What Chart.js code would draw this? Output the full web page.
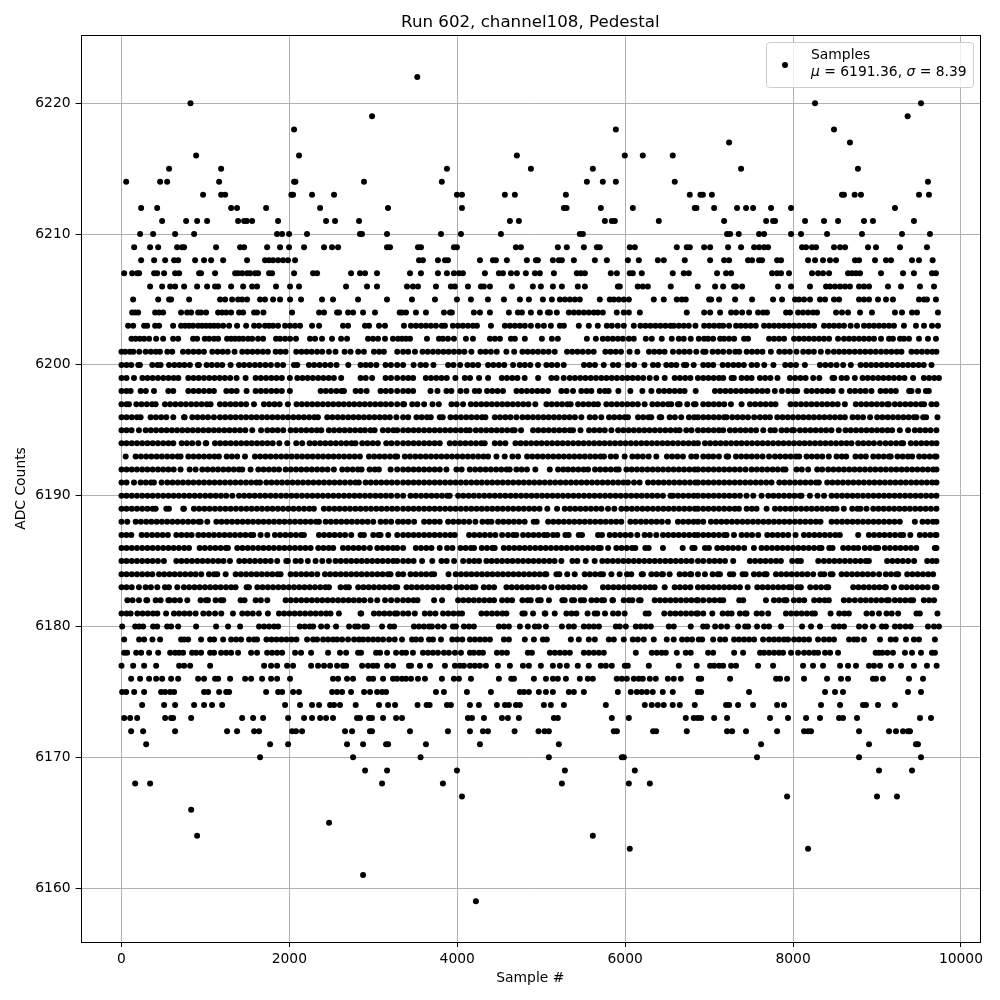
<!DOCTYPE html>
<html>
<head>
<meta charset="utf-8">
<style>body{margin:0;background:#fff}</style>
<script src="https://cdn.jsdelivr.net/npm/chart.js@4"></script>
</head>
<body>
<canvas id="myChart" width="1000" height="1000"></canvas>
<script>
// sample numbers, one list per ADC level
const s6222 = [3524];
const s6220 = [822, 8262, 9524];
const s6219 = [2985, 9365];
const s6218 = [2056, 5889, 8488];
const s6217 = [7238, 8678];
const s6216 = [889, 2115, 4710, 5996, 6210, 6567];
const s6215 = [567, 1187, 3877, 4877, 5615, 7381, 8773];
const s6214 = [56, 460, 544, 1163, 2056, 2072, 2889, 3816, 5544, 5734, 5889, 6591, 9607];
const s6213 = [972, 1187, 1235, 2024, 2044, 2270, 2532, 3996, 4056, 4567, 4686, 5294, 6770, 6897, 6926, 7033, 8583, 8607, 8734, 8809, 9500, 9619];
const s6212 = [234, 425, 1306, 1377, 1723, 2366, 3175, 4056, 5270, 5302, 5710, 6091, 6829, 6849, 7060, 7333, 7440, 7524, 7738, 7976, 9214];
const s6211 = [484, 770, 901, 1020, 1389, 1461, 1493, 1556, 1865, 2437, 2544, 2830, 4627, 4734, 5758, 5841, 5877, 6401, 7179, 7679, 7762, 7786, 8143, 8369, 8536, 8845, 8952, 9440];
const s6210 = [222, 377, 639, 865, 1853, 1913, 1996, 2210, 2841, 2865, 3163, 3806, 4044, 4520, 5460, 5496, 7214, 7250, 7353, 7595, 7655, 7976, 8095, 8405, 8821, 9298, 9631];
const s6209 = [151, 341, 437, 663, 722, 746, 1127, 1413, 1461, 1735, 1889, 1996, 2175, 2413, 2508, 2580, 3163, 3199, 3532, 3568, 3960, 3996, 4698, 4758, 5198, 5305, 5508, 5663, 5698, 6055, 6115, 6615, 6734, 6770, 6941, 7012, 7226, 7381, 7536, 7595, 7655, 7702, 8107, 8155, 8226, 8274, 8488, 8560, 8619, 8893, 8988, 9274, 9595];
const s6208 = [234, 389, 520, 627, 675, 877, 984, 1068, 1211, 1496, 1710, 1758, 1806, 1865, 1925, 1984, 2068, 3544, 3591, 3770, 3853, 3889, 4270, 4425, 4460, 4591, 4829, 4937, 4960, 5139, 5210, 5246, 5389, 5639, 5782, 6032, 6163, 6389, 6460, 6710, 7012, 7179, 7238, 7464, 7512, 7595, 7631, 7810, 7857, 8179, 8262, 8357, 8440, 8512, 8738, 8786, 8976, 9107, 9167, 9417, 9500, 9663];
const s6207 = [32, 127, 187, 210, 389, 425, 508, 639, 687, 925, 948, 1115, 1354, 1389, 1437, 1496, 1532, 1591, 1627, 1758, 1794, 2056, 2282, 2330, 2735, 2841, 2901, 3044, 3437, 3567, 3770, 3877, 3960, 4020, 4067, 4329, 4496, 4544, 4639, 4710, 4817, 4925, 4984, 5151, 5424, 5472, 5520, 5829, 5901, 6055, 6091, 6198, 6567, 6698, 6758, 7095, 7202, 7262, 7750, 7810, 7857, 7952, 8226, 8298, 8357, 8429, 8655, 8702, 8750, 8798, 9048, 9310, 9440, 9655, 9702];
const s6206 = [341, 484, 580, 639, 746, 901, 1020, 1115, 1151, 1306, 1449, 1556, 1615, 1841, 2008, 2115, 2675, 2925, 3044, 3401, 3472, 3532, 3746, 3924, 3972, 4127, 4282, 4317, 4389, 4651, 4900, 4996, 5139, 5246, 5436, 5520, 5913, 5936, 6150, 6210, 6270, 6543, 6865, 7071, 7167, 7298, 7321, 7393, 7821, 7976, 8202, 8393, 8440, 8500, 8560, 8619, 8678, 8786, 8845, 8905, 9131, 9286, 9512, 9679];
const s6205 = [139, 437, 567, 591, 806, 1175, 1235, 1318, 1389, 1437, 1496, 1651, 1710, 1806, 1889, 2008, 2139, 2389, 2520, 2818, 3163, 3460, 3734, 3996, 4163, 4365, 4556, 4746, 4853, 5020, 5127, 5222, 5282, 5341, 5401, 5460, 5698, 5817, 5865, 5924, 5984, 6044, 6341, 6460, 6615, 6675, 6722, 7000, 7024, 7119, 7310, 7512, 7762, 7869, 8024, 8071, 8131, 8202, 8321, 8381, 8488, 8548, 8786, 8845, 8905, 9012, 9107, 9190, 9500, 9560, 9595, 9702];
const s6204 = [127, 163, 198, 401, 448, 496, 710, 782, 830, 913, 948, 1008, 1151, 1199, 1247, 1306, 1401, 1449, 1580, 1615, 1691, 2032, 2354, 2413, 2568, 2592, 2699, 2759, 2878, 3020, 3314, 3341, 3389, 3508, 3627, 3841, 3913, 3936, 4198, 4270, 4389, 4615, 4722, 4770, 4877, 4984, 5079, 5103, 5186, 5329, 5389, 5448, 5508, 5567, 5627, 5674, 5734, 5900, 5984, 6044, 6175, 6734, 6941, 7012, 7131, 7262, 7321, 7393, 7476, 7583, 7643, 7690, 7917, 7964, 8060, 8119, 8179, 8238, 8286, 8512, 8583, 8655, 8798, 8940, 9214, 9298, 9417, 9476, 9726];
const s6203 = [79, 139, 270, 306, 401, 448, 615, 710, 758, 806, 853, 913, 960, 1008, 1056, 1103, 1151, 1211, 1282, 1377, 1485, 1580, 1639, 1710, 1758, 1806, 1865, 1949, 2008, 2068, 2127, 2270, 2354, 2639, 2699, 2901, 2949, 3068, 3139, 3365, 3448, 3508, 3567, 3627, 3686, 3746, 3817, 3853, 3948, 4008, 4067, 4127, 4187, 4234, 4401, 4567, 4627, 4686, 4746, 4805, 4877, 4960, 5032, 5115, 5222, 5270, 5448, 5567, 5674, 5782, 5841, 5912, 5984, 6103, 6182, 6242, 6301, 6361, 6420, 6480, 6540, 6579, 6639, 6698, 6758, 6837, 6941, 7000, 7060, 7119, 7167, 7238, 7321, 7377, 7436, 7496, 7556, 7655, 7714, 7774, 7833, 7893, 7952, 8012, 8071, 8131, 8190, 8250, 8369, 8429, 8488, 8548, 8607, 8686, 8762, 8845, 8905, 8964, 9024, 9083, 9143, 9202, 9321, 9464, 9560, 9655, 9726];
const s6202 = [119, 167, 218, 270, 329, 413, 496, 615, 675, 853, 901, 992, 1044, 1103, 1151, 1258, 1306, 1354, 1401, 1449, 1508, 1556, 1627, 1687, 1841, 1889, 1949, 2008, 2079, 2246, 2306, 2389, 2508, 2616, 2687, 2937, 2996, 3056, 3139, 3234, 3294, 3341, 3389, 3437, 3639, 3782, 3829, 3889, 3960, 4103, 4187, 4389, 4448, 4508, 4639, 4686, 4805, 5008, 5127, 5198, 5544, 5651, 5734, 5793, 5853, 5913, 5972, 6044, 6103, 6246, 6317, 6436, 6555, 6639, 6698, 6781, 6877, 6941, 6988, 7048, 7131, 7179, 7238, 7298, 7417, 7464, 7714, 7774, 7833, 7893, 8012, 8071, 8131, 8190, 8250, 8310, 8369, 8429, 8536, 8607, 8667, 8726, 8786, 8845, 8905, 8964, 9048, 9143, 9190, 9274, 9321, 9381, 9500, 9607, 9702];
const s6201 = [0, 45, 100, 141, 212, 288, 350, 410, 458, 546, 605, 733, 795, 858, 920, 982, 1082, 1145, 1205, 1265, 1347, 1439, 1500, 1560, 1622, 1684, 1744, 1836, 1895, 1955, 2082, 2145, 2205, 2265, 2330, 2391, 2471, 2550, 2658, 2729, 2820, 2888, 3007, 3070, 3126, 3285, 3355, 3415, 3496, 3586, 3648, 3710, 3772, 3835, 3897, 3960, 4022, 4085, 4168, 4276, 4338, 4400, 4470, 4585, 4678, 4776, 4838, 4900, 4962, 5025, 5088, 5161, 5308, 5370, 5432, 5495, 5560, 5625, 5764, 5826, 5888, 5950, 6053, 6145, 6284, 6346, 6408, 6470, 6569, 6642, 6705, 6768, 6847, 6930, 6958, 7042, 7105, 7168, 7240, 7312, 7359, 7447, 7510, 7572, 7635, 7736, 7836, 7900, 7962, 8041, 8121, 8185, 8248, 8331, 8415, 8486, 8548, 8610, 8672, 8735, 8798, 8860, 8922, 8985, 9048, 9110, 9172, 9235, 9291, 9411, 9473, 9535, 9598, 9660, 9708];
const s6200 = [0, 60, 117, 200, 220, 367, 430, 466, 566, 630, 690, 750, 815, 910, 922, 1014, 1075, 1140, 1200, 1300, 1400, 1460, 1525, 1590, 1650, 1715, 1780, 1856, 1925, 2055, 2094, 2233, 2295, 2360, 2425, 2490, 2562, 2702, 2848, 2910, 2967, 3036, 3146, 3210, 3284, 3355, 3480, 3562, 3625, 3716, 3891, 3955, 4034, 4121, 4185, 4248, 4367, 4430, 4495, 4560, 4665, 4744, 4805, 4870, 4962, 5062, 5125, 5190, 5268, 5510, 5575, 5640, 5745, 5855, 5918, 6033, 6107, 6230, 6332, 6391, 6490, 6550, 6609, 6701, 6728, 6816, 6930, 6990, 7049, 7161, 7225, 7290, 7350, 7414, 7506, 7570, 7657, 7766, 7907, 7970, 8035, 8141, 8320, 8385, 8450, 8518, 8597, 8688, 8804, 8868, 8930, 8990, 9055, 9118, 9180, 9245, 9308, 9370, 9432, 9495, 9557, 9649];
const s6199 = [0, 60, 149, 249, 310, 372, 435, 498, 560, 622, 677, 796, 858, 920, 982, 1045, 1108, 1170, 1232, 1295, 1371, 1479, 1598, 1660, 1722, 1785, 1847, 1910, 2006, 2094, 2156, 2218, 2280, 2343, 2405, 2468, 2530, 2617, 2848, 2910, 2986, 3146, 3210, 3284, 3355, 3417, 3474, 3625, 3687, 3750, 3812, 3875, 3978, 4090, 4152, 4260, 4367, 4530, 4592, 4655, 4717, 4803, 4963, 5121, 5183, 5268, 5340, 5402, 5465, 5527, 5590, 5652, 5715, 5777, 5840, 5902, 5965, 6027, 6090, 6152, 6215, 6292, 6371, 6471, 6590, 6652, 6715, 6777, 6867, 6930, 6992, 7055, 7117, 7168, 7268, 7295, 7387, 7450, 7506, 7605, 7667, 7730, 7815, 7963, 8025, 8088, 8150, 8240, 8313, 8470, 8490, 8578, 8640, 8736, 8828, 8890, 8952, 9015, 9077, 9140, 9202, 9265, 9327, 9430, 9558, 9620, 9682, 9738];
const s6198 = [0, 60, 109, 228, 290, 387, 558, 617, 796, 858, 920, 982, 1045, 1101, 1249, 1310, 1372, 1490, 1598, 1660, 1722, 1785, 1847, 1910, 2006, 2372, 2434, 2496, 2560, 2622, 2650, 2789, 2850, 2920, 3086, 3148, 3210, 3284, 3355, 3415, 3474, 3681, 3764, 3871, 3930, 4038, 4109, 4209, 4260, 4355, 4417, 4480, 4545, 4705, 4767, 4830, 4892, 4955, 5017, 5081, 5240, 5302, 5379, 5478, 5540, 5597, 5697, 5759, 5803, 5919, 6062, 6205, 6312, 6403, 6465, 6527, 6590, 6652, 6708, 6840, 7070, 7132, 7195, 7257, 7320, 7382, 7445, 7507, 7570, 7632, 7695, 7783, 7867, 7943, 8005, 8049, 8161, 8223, 8286, 8348, 8411, 8473, 8577, 8677, 8739, 8802, 8864, 8934, 9042, 9104, 9166, 9224, 9383, 9410, 9490, 9582, 9617];
const s6197 = [0, 60, 89, 177, 239, 302, 364, 407, 518, 580, 642, 705, 767, 830, 892, 955, 1017, 1061, 1173, 1235, 1298, 1360, 1423, 1485, 1578, 1697, 1759, 1822, 1884, 1982, 2086, 2148, 2211, 2273, 2336, 2398, 2461, 2523, 2586, 2648, 2711, 2773, 2836, 2898, 2961, 3023, 3086, 3148, 3211, 3284, 3355, 3367, 3463, 3525, 3605, 3705, 3780, 3931, 3993, 4069, 4161, 4223, 4286, 4348, 4411, 4473, 4536, 4598, 4661, 4723, 4786, 4848, 4930, 5062, 5124, 5187, 5249, 5312, 5351, 5439, 5501, 5564, 5626, 5676, 5776, 5838, 5901, 5963, 6026, 6088, 6151, 6232, 6324, 6386, 6449, 6511, 6549, 6629, 6649, 6740, 6820, 6839, 6930, 6992, 7055, 7117, 7180, 7260, 7387, 7487, 7549, 7612, 7674, 7737, 7791, 7970, 8032, 8095, 8157, 8220, 8282, 8345, 8407, 8470, 8532, 8617, 8748, 8810, 8873, 8935, 8998, 9060, 9123, 9140, 9212, 9274, 9337, 9399, 9462, 9524, 9561, 9649, 9708];
const s6196 = [0, 60, 122, 184, 228, 347, 409, 472, 534, 617, 745, 752, 844, 906, 969, 1031, 1101, 1173, 1235, 1298, 1360, 1423, 1485, 1548, 1610, 1673, 1735, 1798, 1860, 1923, 1985, 2048, 2110, 2173, 2235, 2298, 2340, 2451, 2513, 2576, 2638, 2701, 2763, 2826, 2888, 2951, 3013, 3076, 3138, 3197, 3275, 3355, 3415, 3514, 3576, 3639, 3684, 3792, 3827, 3919, 3982, 4044, 4107, 4169, 4232, 4294, 4335, 4447, 4509, 4572, 4634, 4704, 4776, 4838, 4901, 4963, 5026, 5088, 5151, 5213, 5276, 5338, 5401, 5478, 5578, 5640, 5716, 5808, 5870, 5933, 5995, 6033, 6153, 6215, 6278, 6311, 6411, 6430, 6530, 6592, 6668, 6760, 6822, 6867, 6930, 6992, 7055, 7117, 7180, 7208, 7276, 7338, 7401, 7463, 7537, 7605, 7667, 7724, 7812, 7874, 7937, 7999, 8062, 8124, 8187, 8249, 8312, 8374, 8437, 8499, 8562, 8617, 8709, 8771, 8834, 8918, 9002, 9064, 9127, 9189, 9252, 9314, 9377, 9439, 9470, 9550, 9585, 9720];
const s6195 = [0, 60, 120, 208, 288, 350, 412, 475, 537, 600, 662, 725, 787, 850, 912, 975, 1037, 1100, 1162, 1225, 1287, 1350, 1412, 1475, 1558, 1663, 1737, 1799, 1861, 1927, 2015, 2077, 2140, 2202, 2265, 2327, 2380, 2471, 2533, 2596, 2658, 2721, 2783, 2846, 2900, 2967, 3015, 3114, 3176, 3239, 3284, 3355, 3417, 3480, 3542, 3605, 3667, 3730, 3792, 3855, 3917, 3980, 4042, 4105, 4149, 4220, 4282, 4345, 4407, 4470, 4532, 4595, 4657, 4684, 4760, 4903, 4965, 5028, 5090, 5153, 5215, 5278, 5340, 5379, 5468, 5570, 5632, 5695, 5757, 5836, 5916, 5978, 6041, 6103, 6166, 6228, 6291, 6353, 6416, 6478, 6541, 6603, 6649, 6728, 6790, 6867, 6930, 6992, 7055, 7117, 7168, 7248, 7310, 7373, 7435, 7498, 7560, 7645, 7732, 7783, 7863, 7925, 7988, 8010, 8082, 8144, 8207, 8269, 8332, 8394, 8457, 8545, 8625, 8687, 8750, 8812, 8875, 8937, 9000, 9062, 9125, 9180, 9272, 9371, 9451, 9513, 9576, 9638, 9708];
const s6194 = [0, 60, 122, 184, 247, 309, 372, 434, 497, 559, 617, 717, 779, 842, 915, 1003, 1010, 1114, 1176, 1239, 1301, 1364, 1426, 1489, 1551, 1614, 1676, 1739, 1801, 1880, 1975, 2082, 2153, 2241, 2303, 2366, 2428, 2491, 2553, 2616, 2678, 2741, 2788, 2868, 2930, 2993, 3054, 3154, 3216, 3284, 3355, 3417, 3480, 3542, 3605, 3667, 3730, 3791, 3911, 3973, 4036, 4098, 4161, 4223, 4286, 4327, 4447, 4509, 4573, 4693, 4755, 4818, 4880, 4943, 5005, 5068, 5130, 5193, 5255, 5318, 5380, 5443, 5505, 5568, 5630, 5693, 5755, 5818, 5880, 5943, 6005, 6068, 6130, 6193, 6255, 6318, 6380, 6443, 6505, 6568, 6630, 6693, 6755, 6818, 6867, 6950, 7012, 7075, 7137, 7200, 7262, 7325, 7387, 7450, 7512, 7575, 7637, 7700, 7762, 7825, 7887, 7950, 8012, 8075, 8137, 8200, 8262, 8325, 8387, 8450, 8512, 8575, 8637, 8696, 8776, 8838, 8901, 8963, 9034, 9102, 9164, 9227, 9289, 9311, 9403, 9465, 9528, 9590, 9653, 9708];
const s6193 = [50, 169, 231, 294, 356, 419, 481, 544, 606, 669, 704, 796, 858, 921, 983, 1046, 1108, 1161, 1253, 1315, 1378, 1471, 1590, 1652, 1715, 1777, 1840, 1902, 1965, 2027, 2090, 2152, 2215, 2277, 2340, 2402, 2465, 2527, 2590, 2652, 2715, 2777, 2840, 2948, 3010, 3073, 3135, 3198, 3260, 3284, 3375, 3437, 3500, 3562, 3625, 3687, 3750, 3812, 3875, 3937, 4000, 4062, 4125, 4187, 4250, 4312, 4367, 4467, 4565, 4657, 4724, 4832, 4894, 4957, 5019, 5082, 5144, 5207, 5269, 5332, 5394, 5457, 5519, 5582, 5644, 5707, 5748, 5828, 5890, 5994, 6086, 6148, 6211, 6280, 6371, 6498, 6560, 6623, 6688, 6788, 6847, 6930, 6992, 7049, 7117, 7209, 7228, 7320, 7382, 7445, 7507, 7570, 7637, 7714, 7784, 7846, 7909, 7971, 8034, 8073, 8161, 8223, 8286, 8348, 8426, 8518, 8580, 8633, 8744, 8806, 8867, 8955, 9017, 9080, 9142, 9164, 9244, 9306, 9369, 9419, 9502, 9564, 9627, 9689, 9708];
const s6192 = [0, 60, 122, 184, 247, 309, 372, 434, 497, 559, 622, 704, 812, 883, 963, 1025, 1088, 1150, 1213, 1275, 1338, 1400, 1439, 1538, 1630, 1692, 1755, 1817, 1876, 1955, 2017, 2080, 2142, 2205, 2267, 2330, 2392, 2455, 2530, 2630, 2692, 2755, 2817, 2860, 2956, 3018, 3066, 3206, 3284, 3355, 3417, 3480, 3542, 3605, 3667, 3730, 3792, 3871, 3990, 4052, 4149, 4213, 4275, 4338, 4400, 4463, 4525, 4588, 4625, 4705, 4767, 4830, 4930, 5102, 5201, 5263, 5320, 5380, 5442, 5505, 5558, 5641, 5703, 5766, 5828, 5891, 5923, 6015, 6077, 6140, 6202, 6265, 6327, 6390, 6452, 6515, 6577, 6640, 6702, 6765, 6827, 6867, 6930, 6992, 7055, 7117, 7180, 7242, 7305, 7367, 7434, 7506, 7568, 7631, 7693, 7756, 7818, 7881, 7910, 8042, 8104, 8180, 8288, 8347, 8419, 8481, 8544, 8606, 8669, 8731, 8794, 8856, 8919, 8981, 9044, 9106, 9169, 9231, 9294, 9356, 9419, 9481, 9544, 9606, 9669, 9708];
const s6191 = [0, 60, 149, 228, 290, 352, 387, 478, 546, 608, 671, 733, 796, 858, 921, 983, 1046, 1108, 1171, 1233, 1296, 1358, 1421, 1483, 1546, 1608, 1650, 1725, 1787, 1850, 1912, 1975, 2037, 2100, 2162, 2225, 2287, 2350, 2412, 2475, 2537, 2600, 2662, 2725, 2787, 2828, 2908, 2970, 3033, 3095, 3158, 3220, 3284, 3355, 3417, 3480, 3542, 3605, 3667, 3730, 3792, 3855, 3917, 3980, 4042, 4105, 4167, 4230, 4292, 4355, 4417, 4480, 4542, 4605, 4667, 4730, 4792, 4855, 4917, 4980, 5042, 5105, 5167, 5230, 5292, 5355, 5417, 5480, 5542, 5605, 5667, 5730, 5792, 5855, 5917, 5980, 6033, 6105, 6172, 6272, 6334, 6397, 6459, 6522, 6584, 6647, 6709, 6772, 6834, 6867, 6930, 6992, 7055, 7117, 7180, 7242, 7305, 7367, 7430, 7492, 7555, 7617, 7680, 7744, 7836, 7898, 7961, 8023, 8086, 8148, 8211, 8273, 8307, 8407, 8469, 8532, 8594, 8657, 8719, 8782, 8844, 8907, 8969, 9032, 9094, 9157, 9219, 9282, 9344, 9407, 9469, 9532, 9594, 9657, 9708];
const s6190 = [0, 60, 122, 184, 247, 309, 372, 434, 497, 559, 622, 684, 747, 809, 872, 934, 997, 1059, 1122, 1184, 1247, 1320, 1400, 1462, 1525, 1587, 1650, 1712, 1775, 1837, 1900, 1962, 2025, 2087, 2150, 2212, 2275, 2337, 2400, 2462, 2525, 2587, 2650, 2712, 2775, 2837, 2900, 2962, 3025, 3087, 3150, 3212, 3284, 3355, 3443, 3505, 3568, 3630, 3693, 3755, 3818, 3880, 3910, 4010, 4072, 4135, 4197, 4260, 4322, 4385, 4447, 4510, 4572, 4635, 4697, 4760, 4822, 4885, 4947, 5010, 5072, 5135, 5197, 5260, 5322, 5385, 5447, 5510, 5572, 5635, 5697, 5760, 5822, 5885, 5947, 6010, 6072, 6135, 6197, 6260, 6322, 6385, 6450, 6540, 6570, 6630, 6692, 6755, 6817, 6867, 6930, 6992, 7055, 7117, 7180, 7242, 7305, 7367, 7446, 7526, 7625, 7705, 7767, 7830, 7892, 7955, 8017, 8080, 8101, 8201, 8291, 8369, 8459, 8521, 8584, 8646, 8709, 8771, 8834, 8896, 8959, 9021, 9084, 9146, 9209, 9271, 9334, 9396, 9459, 9521, 9584, 9646, 9708];
const s6189 = [0, 60, 122, 184, 247, 309, 372, 407, 534, 565, 744, 736, 863, 925, 988, 1050, 1113, 1175, 1238, 1300, 1363, 1425, 1488, 1550, 1613, 1675, 1738, 1800, 1863, 1925, 1988, 2050, 2113, 2175, 2238, 2292, 2411, 2473, 2536, 2598, 2661, 2723, 2786, 2848, 2911, 2973, 3036, 3098, 3161, 3223, 3284, 3355, 3417, 3480, 3542, 3605, 3667, 3730, 3792, 3855, 3917, 3980, 4042, 4105, 4167, 4230, 4292, 4355, 4417, 4480, 4542, 4605, 4667, 4730, 4792, 4855, 4917, 4980, 5073, 5189, 5280, 5342, 5405, 5467, 5530, 5592, 5655, 5717, 5796, 5871, 5955, 6017, 6080, 6142, 6205, 6267, 6330, 6392, 6455, 6517, 6580, 6642, 6705, 6767, 6830, 6867, 6930, 6992, 7055, 7117, 7180, 7242, 7305, 7355, 7447, 7509, 7565, 7685, 7784, 7846, 7909, 7971, 8034, 8096, 8159, 8221, 8284, 8346, 8409, 8471, 8518, 8605, 8705, 8767, 8803, 8875, 8955, 9017, 9080, 9142, 9205, 9267, 9330, 9392, 9455, 9517, 9580, 9642, 9708];
const s6188 = [0, 69, 169, 231, 294, 356, 419, 481, 544, 606, 669, 731, 794, 856, 919, 943, 1022, 1130, 1192, 1255, 1317, 1380, 1442, 1505, 1567, 1630, 1692, 1755, 1817, 1880, 1942, 2005, 2067, 2130, 2192, 2255, 2317, 2352, 2432, 2494, 2557, 2619, 2682, 2744, 2807, 2869, 2932, 2999, 3087, 3149, 3213, 3295, 3355, 3417, 3486, 3605, 3667, 3730, 3791, 3891, 3953, 4016, 4078, 4141, 4216, 4300, 4362, 4407, 4487, 4549, 4612, 4674, 4737, 4803, 4911, 4946, 5082, 5144, 5207, 5269, 5332, 5394, 5457, 5519, 5582, 5644, 5707, 5769, 5832, 5894, 5954, 6062, 6124, 6187, 6249, 6312, 6374, 6437, 6510, 6629, 6691, 6754, 6816, 6867, 6930, 7022, 7084, 7147, 7209, 7272, 7334, 7397, 7459, 7522, 7584, 7647, 7709, 7772, 7834, 7897, 7959, 8022, 8084, 8147, 8209, 8272, 8327, 8459, 8521, 8584, 8646, 8709, 8771, 8834, 8896, 8959, 9021, 9084, 9146, 9209, 9272, 9451, 9542, 9604, 9667, 9708];
const s6187 = [0, 60, 117, 240, 302, 365, 427, 490, 553, 653, 715, 778, 835, 915, 977, 1040, 1102, 1165, 1227, 1290, 1352, 1415, 1477, 1540, 1570, 1657, 1737, 1828, 1890, 1953, 2015, 2078, 2140, 2173, 2352, 2414, 2477, 2539, 2602, 2664, 2737, 2848, 2888, 2999, 3061, 3086, 3178, 3285, 3355, 3417, 3480, 3542, 3605, 3667, 3730, 3792, 3855, 3917, 3970, 4141, 4203, 4266, 4328, 4391, 4453, 4534, 4605, 4667, 4704, 4784, 4846, 4909, 4971, 5034, 5073, 5141, 5192, 5288, 5327, 5447, 5486, 5677, 5724, 5816, 5878, 5941, 6003, 6066, 6145, 6232, 6294, 6371, 6451, 6513, 6576, 6638, 6701, 6763, 6826, 6867, 6930, 6992, 7055, 7117, 7180, 7208, 7296, 7387, 7450, 7512, 7585, 7693, 7755, 7818, 7880, 7943, 8030, 8129, 8191, 8254, 8316, 8379, 8441, 8504, 8557, 8776, 8903, 8965, 9028, 9090, 9153, 9215, 9278, 9311, 9397, 9510, 9572, 9635, 9697, 9708];
const s6186 = [0, 60, 122, 184, 247, 309, 372, 434, 497, 559, 622, 684, 747, 804, 931, 993, 1056, 1118, 1181, 1243, 1268, 1379, 1441, 1504, 1566, 1629, 1691, 1754, 1816, 1879, 1941, 2004, 2066, 2129, 2191, 2253, 2344, 2406, 2469, 2522, 2638, 2700, 2763, 2825, 2888, 2959, 3047, 3109, 3172, 3234, 3284, 3355, 3506, 3568, 3631, 3693, 3791, 3879, 3942, 4038, 4100, 4163, 4200, 4292, 4354, 4417, 4446, 4554, 4616, 4679, 4741, 4804, 4866, 4929, 4991, 5054, 5116, 5179, 5241, 5304, 5366, 5429, 5491, 5554, 5616, 5679, 5709, 5797, 5895, 5957, 6020, 6082, 6121, 6240, 6280, 6450, 6685, 6800, 6827, 6950, 6998, 7098, 7160, 7223, 7285, 7348, 7418, 7534, 7625, 7687, 7750, 7812, 7875, 7937, 8000, 8062, 8125, 8187, 8250, 8312, 8339, 8431, 8470, 8597, 8659, 8722, 8776, 8855, 8917, 8980, 9014, 9093, 9155, 9218, 9280, 9343, 9405, 9468, 9689, 9708];
const s6185 = [0, 60, 122, 184, 247, 309, 372, 434, 506, 653, 715, 778, 840, 903, 965, 1028, 1090, 1153, 1215, 1292, 1403, 1465, 1528, 1590, 1653, 1715, 1778, 1855, 1963, 1982, 2074, 2136, 2220, 2312, 2392, 2471, 2550, 2612, 2675, 2737, 2800, 2862, 2925, 2987, 3050, 3112, 3175, 3237, 3284, 3355, 3417, 3480, 3581, 3702, 3812, 3874, 3962, 4070, 4141, 4203, 4260, 4347, 4409, 4472, 4534, 4597, 4659, 4722, 4784, 4847, 4909, 4972, 5034, 5097, 5159, 5240, 5372, 5430, 5530, 5637, 5728, 5790, 5853, 5915, 5978, 6040, 6103, 6165, 6228, 6290, 6353, 6415, 6478, 6540, 6603, 6665, 6728, 6790, 6867, 6930, 7002, 7064, 7127, 7189, 7287, 7486, 7548, 7611, 7673, 7736, 7798, 7855, 7990, 8052, 8093, 8300, 8367, 8429, 8492, 8554, 8617, 8679, 8742, 8804, 8867, 8903, 9121, 9183, 9246, 9308, 9371, 9442, 9598, 9660, 9708];
const s6184 = [0, 60, 122, 184, 247, 309, 367, 447, 509, 572, 634, 697, 759, 822, 883, 950, 1042, 1104, 1141, 1241, 1360, 1422, 1485, 1547, 1610, 1672, 1735, 1797, 1860, 1895, 2015, 2077, 2140, 2202, 2265, 2332, 2424, 2486, 2549, 2611, 2674, 2736, 2799, 2861, 2924, 2986, 3049, 3111, 3174, 3205, 3297, 3355, 3443, 3505, 3568, 3630, 3693, 3724, 3896, 3982, 4044, 4107, 4169, 4232, 4294, 4357, 4419, 4482, 4544, 4607, 4669, 4732, 4794, 4857, 4919, 4982, 5044, 5061, 5181, 5216, 5310, 5399, 5518, 5580, 5643, 5705, 5736, 5836, 5934, 6022, 6073, 6197, 6212, 6312, 6374, 6437, 6450, 6530, 6649, 6711, 6774, 6787, 6867, 6950, 7042, 7104, 7129, 7248, 7287, 7399, 7434, 7534, 7596, 7659, 7684, 7796, 7858, 7921, 7983, 8046, 8108, 8171, 8240, 8328, 8371, 8447, 8470, 8578, 8640, 8703, 8765, 8828, 8890, 8953, 9025, 9105, 9167, 9230, 9252, 9360, 9422, 9485, 9547, 9610, 9668];
const s6183 = [0, 60, 122, 208, 288, 350, 427, 518, 565, 665, 744, 806, 869, 931, 994, 1056, 1119, 1181, 1244, 1306, 1359, 1491, 1518, 1618, 1680, 1743, 1805, 1868, 1930, 1993, 2055, 2118, 2180, 2243, 2305, 2368, 2430, 2471, 2610, 2672, 2709, 2820, 2882, 2945, 3007, 3070, 3132, 3195, 3257, 3284, 3395, 3457, 3520, 3582, 3645, 3707, 3770, 3832, 3895, 3910, 3990, 4052, 4115, 4177, 4216, 4316, 4378, 4438, 4586, 4648, 4711, 4773, 4836, 4898, 4961, 5034, 5121, 5201, 5263, 5326, 5388, 5451, 5518, 5736, 5798, 5861, 5923, 5986, 6048, 6111, 6173, 6236, 6298, 6351, 6471, 6590, 6652, 6715, 6777, 6867, 6930, 6992, 7055, 7117, 7180, 7242, 7305, 7367, 7459, 7574, 7636, 7699, 7761, 7824, 7886, 7949, 7982, 8054, 8093, 8205, 8272, 8334, 8397, 8419, 8717, 8779, 8842, 8904, 8967, 9029, 9092, 9105, 9202, 9292, 9354, 9417, 9479, 9542, 9604, 9689, 9708];
const s6182 = [70, 132, 208, 296, 307, 407, 466, 558, 573, 633, 696, 784, 943, 1005, 1030, 1121, 1183, 1212, 1419, 1466, 1598, 1660, 1737, 1955, 2017, 2080, 2142, 2205, 2267, 2330, 2392, 2455, 2517, 2580, 2642, 2705, 2767, 2830, 2892, 2967, 3047, 3140, 3212, 3284, 3355, 3417, 3480, 3526, 3724, 3819, 4010, 4072, 4135, 4197, 4260, 4322, 4385, 4438, 4534, 4596, 4653, 4776, 4838, 4875, 4963, 4994, 5092, 5252, 5280, 5367, 5391, 5471, 5510, 5598, 5660, 5723, 5748, 5848, 5855, 5983, 6045, 6085, 6165, 6184, 6352, 6414, 6477, 6539, 6602, 6664, 6727, 6789, 6852, 6867, 6930, 7002, 7064, 7127, 7168, 7359, 7406, 7677, 7772, 7834, 7897, 7922, 8010, 8072, 8133, 8252, 8314, 8377, 8426, 8605, 8667, 8736, 8804, 8866, 8929, 8991, 9054, 9116, 9141, 9212, 9274, 9337, 9399, 9430, 9558, 9620, 9680];
const s6181 = [0, 60, 109, 189, 251, 313, 375, 427, 531, 625, 687, 750, 812, 883, 975, 1042, 1115, 1189, 1328, 1439, 1501, 1564, 1637, 1744, 1876, 1938, 2001, 2063, 2126, 2188, 2251, 2313, 2376, 2438, 2490, 2590, 2848, 2856, 3007, 3069, 3132, 3194, 3257, 3284, 3355, 3417, 3494, 3613, 3675, 3740, 3831, 3893, 3956, 4018, 4057, 4288, 4350, 4413, 4475, 4538, 4585, 4776, 4803, 4903, 5042, 5049, 5161, 5300, 5362, 5419, 5552, 5637, 5668, 5760, 5856, 5918, 5994, 6244, 6280, 6466, 6538, 6600, 6663, 6725, 6788, 6850, 6867, 6930, 7038, 7161, 7223, 7268, 7367, 7429, 7446, 7566, 7628, 7704, 7915, 7977, 8040, 8102, 8165, 8227, 8260, 8447, 8550, 8612, 8665, 8875, 8942, 9024, 9113, 9175, 9252, 9470, 9510, 9720];
const s6180 = [8, 163, 210, 258, 377, 425, 544, 591, 675, 889, 1127, 1270, 1413, 1639, 1699, 1758, 1818, 1866, 2124, 2183, 2243, 2283, 2378, 2449, 2556, 2711, 2783, 2818, 2890, 2925, 3104, 3199, 3247, 3484, 3544, 3603, 3663, 3698, 3770, 3841, 3948, 3984, 4079, 4139, 4198, 4496, 4556, 4615, 4746, 4841, 4925, 4972, 5056, 5246, 5329, 5389, 5508, 5567, 5627, 5687, 5889, 5936, 6008, 6127, 6186, 6246, 6306, 6520, 6579, 6781, 6929, 6976, 7072, 7143, 7214, 7345, 7429, 7464, 7571, 7655, 7714, 7857, 8107, 8214, 8321, 8488, 8548, 8607, 8786, 8857, 8952, 9059, 9107, 9214, 9274, 9341, 9401, 9607, 9679, 9738];
const s6179 = [32, 210, 270, 369, 460, 710, 746, 794, 948, 1056, 1103, 1211, 1306, 1366, 1425, 1520, 1580, 1615, 1727, 1787, 1846, 1906, 1965, 2025, 2084, 2211, 2283, 2330, 2402, 2461, 2520, 2568, 2628, 2699, 2771, 2830, 2878, 2937, 2997, 3056, 3116, 3188, 3255, 3342, 3461, 3508, 3567, 3663, 3710, 3806, 3941, 4000, 4060, 4151, 4210, 4270, 4329, 4389, 4556, 4615, 4805, 4913, 5020, 5067, 5353, 5448, 5567, 5639, 5805, 5865, 5984, 6091, 6151, 6222, 6341, 6496, 6579, 6678, 6738, 6797, 6877, 6917, 7048, 7131, 7190, 7298, 7357, 7417, 7476, 7536, 7643, 7714, 7774, 7833, 7893, 7940, 8012, 8071, 8131, 8190, 8298, 8369, 8429, 8488, 8667, 8726, 8766, 8845, 9036, 9163, 9222, 9345, 9440, 9500, 9690];
const s6178 = [32, 67, 175, 234, 329, 437, 580, 639, 687, 734, 841, 889, 948, 1056, 1103, 1187, 1247, 1306, 1389, 1544, 1615, 1735, 1794, 1854, 1914, 2068, 2139, 2259, 2461, 2603, 2676, 2818, 2854, 3033, 3080, 3164, 3271, 3342, 3389, 3472, 3591, 3651, 3710, 3770, 3841, 3900, 3972, 4044, 4151, 4198, 4258, 4306, 4472, 4532, 4591, 4841, 4889, 5103, 5163, 5222, 5282, 5341, 5508, 5567, 5627, 5687, 5746, 6127, 6317, 6377, 6436, 6484, 6615, 6722, 6781, 6988, 7048, 7298, 7405, 7607, 7655, 7714, 7774, 7833, 7881, 7976, 8060, 8131, 8190, 8250, 8298, 8381, 8441, 8536, 8984, 9024, 9063, 9123, 9190, 9333, 9417, 9524, 9655, 9690];
const s6177 = [0, 139, 270, 413, 687, 746, 818, 1056, 1699, 1782, 1854, 1973, 2044, 2259, 2342, 2413, 2485, 2568, 2640, 2676, 2866, 2937, 2997, 3045, 3164, 3235, 3425, 3449, 3556, 3675, 3853, 3972, 4032, 4079, 4151, 4210, 4270, 4341, 4484, 4627, 4782, 4853, 4996, 5139, 5222, 5305, 5436, 5567, 5710, 5770, 5841, 5996, 6032, 6282, 6639, 6853, 7012, 7060, 7119, 7167, 7262, 7321, 7583, 7762, 8119, 8238, 8357, 8560, 8655, 8750, 8905, 8964, 9036, 9167, 9286, 9440, 9595, 9710];
const s6176 = [115, 222, 329, 413, 484, 591, 675, 913, 984, 1115, 1151, 1294, 1473, 1544, 1675, 1782, 1854, 2008, 2520, 2580, 2687, 2759, 2949, 2997, 3116, 3235, 3283, 3342, 3389, 3449, 3532, 3615, 3817, 3960, 4020, 4163, 4496, 4643, 4675, 4913, 5056, 5139, 5198, 5294, 5460, 5555, 5615, 5900, 5960, 6020, 6103, 6163, 6210, 6294, 6365, 6508, 6579, 6663, 6877, 6905, 7250, 7798, 7845, 7929, 8131, 8405, 8571, 8655, 8952, 8988, 9071, 9381, 9548];
const s6175 = [8, 56, 151, 270, 472, 520, 580, 627, 984, 1032, 1163, 1247, 1282, 1723, 1866, 1914, 2044, 2115, 2509, 2568, 2628, 2735, 2890, 2961, 3045, 3104, 3152, 3746, 3841, 4115, 4401, 4746, 4794, 4853, 4972, 5056, 5139, 5329, 5389, 5508, 5913, 6067, 6139, 6198, 6258, 6329, 6448, 6567, 6865, 6905, 7476, 8381, 8500, 8595, 9369, 9524];
const s6174 = [246, 508, 639, 865, 984, 1079, 1199, 1949, 2127, 2270, 2354, 2485, 2532, 2603, 2790, 3068, 3176, 3259, 3527, 3635, 3671, 3877, 3924, 4151, 4258, 4472, 4568, 4615, 4698, 4746, 5032, 5115, 5270, 5770, 6234, 6317, 6389, 6460, 6567, 6651, 6829, 7202, 7238, 7345, 7524, 7810, 7893, 8333, 8560, 8833, 8869, 9012, 9214];
const s6173 = [32, 103, 187, 520, 591, 615, 830, 1437, 1568, 1687, 1985, 2175, 2270, 2366, 2437, 2520, 2806, 2842, 2949, 2984, 3116, 3271, 3342, 4127, 4175, 4318, 4532, 4603, 4734, 5151, 5198, 5841, 6044, 6722, 6817, 6865, 6905, 7060, 7214, 7726, 7940, 8155, 8321, 8548, 8595, 8762, 9512, 9643];
const s6172 = [115, 258, 639, 1258, 1377, 1580, 1639, 2032, 2079, 2151, 2663, 2747, 2960, 2984, 3437, 3889, 4151, 4306, 4365, 4683, 4968, 5040, 5091, 5865, 5901, 6333, 6369, 6734, 7214, 7274, 7440, 7810, 8131, 8179, 8214, 8786, 9143, 9226, 9310, 9369, 9393];
const s6171 = [294, 1770, 1985, 2687, 2878, 3152, 3176, 3627, 4270, 5210, 7619, 8905, 9464, 9488];
const s6170 = [1651, 2759, 3563, 5091, 5960, 5984, 7571, 8786, 9524];
const s6169 = [2902, 3164, 3996, 5282, 6115, 9024, 9417];
const s6168 = [163, 341, 3104, 3829, 5246, 6044, 6294];
const s6167 = [4056, 7929, 9000, 9238];
const s6166 = [830];
const s6165 = [2473];
const s6164 = [901, 5615];
const s6163 = [6055, 8179];
const s6161 = [2878];
const s6159 = [4222];

const levels = [6222, 6220, 6219, 6218, 6217, 6216, 6215, 6214, 6213, 6212, 6211, 6210, 6209, 6208, 6207, 6206, 6205, 6204, 6203, 6202, 6201, 6200, 6199, 6198, 6197, 6196, 6195, 6194, 6193, 6192, 6191, 6190, 6189, 6188, 6187, 6186, 6185, 6184, 6183, 6182, 6181, 6180, 6179, 6178, 6177, 6176, 6175, 6174, 6173, 6172, 6171, 6170, 6169, 6168, 6167, 6166, 6165, 6164, 6163, 6161, 6159];
const sampleRows = [s6222, s6220, s6219, s6218, s6217, s6216, s6215, s6214, s6213, s6212, s6211, s6210, s6209, s6208, s6207, s6206, s6205, s6204, s6203, s6202, s6201, s6200, s6199, s6198, s6197, s6196, s6195, s6194, s6193, s6192, s6191, s6190, s6189, s6188, s6187, s6186, s6185, s6184, s6183, s6182, s6181, s6180, s6179, s6178, s6177, s6176, s6175, s6174, s6173, s6172, s6171, s6170, s6169, s6168, s6167, s6166, s6165, s6164, s6163, s6161, s6159];

const xTicks = [0, 2000, 4000, 6000, 8000, 10000];
const yTicks = [6160, 6170, 6180, 6190, 6200, 6210, 6220];

const points = [];
levels.forEach((level, i) => {
  sampleRows[i].forEach((sample) => points.push({ x: sample, y: level }));
});

const FONT = "'DejaVu Sans'";

// box round the axes plus the legend with its italic mu and sigma
const framePlugin = {
  id: "frame",
  afterDraw(chart) {
    const c = chart.ctx;
    const a = chart.chartArea;
    c.save();
    c.strokeStyle = "#000";
    c.lineWidth = 1;
    c.strokeRect(Math.round(a.left) + 0.5, Math.round(a.top) + 0.5, Math.round(a.right - a.left), Math.round(a.bottom - a.top));

    c.beginPath();
    c.roundRect(766.5, 42.5, 207, 45, 3);
    c.fillStyle = "rgba(255,255,255,0.8)";
    c.fill();
    c.strokeStyle = "#ccc";
    c.stroke();

    c.beginPath();
    c.arc(785, 65, 3, 0, Math.PI * 2);
    c.fillStyle = "#000";
    c.fill();

    c.textBaseline = "alphabetic";
    c.textAlign = "left";
    c.font = "13.89px " + FONT;
    c.fillText("Samples", 811, 59);
    let x = 811;
    [["\u03bc", true], [" = 6191.36, ", false], ["\u03c3", true], [" = 8.39", false]].forEach(([t, it]) => {
      c.font = (it ? "italic " : "") + "13.89px " + FONT;
      c.fillText(t, x, 75.5);
      x += c.measureText(t).width;
    });
    c.restore();
  },
};

new Chart(document.getElementById("myChart"), {
  type: "scatter",
  data: {
    datasets: [
      {
        label: "Samples",
        data: points,
        backgroundColor: "#000",
        borderWidth: 0,
        pointRadius: 3,
      },
    ],
  },
  plugins: [framePlugin],
  options: {
    responsive: false,
    animation: false,
    layout: { padding: { right: 20 } },
    plugins: {
      legend: { display: false },
      tooltip: { enabled: false },
      title: {
        display: true,
        text: "Run 602, channel108, Pedestal",
        fullSize: false,
        color: "#000",
        font: { family: FONT, size: 16.67, weight: "normal" },
        padding: { top: 13, bottom: 2 },
      },
    },
    scales: {
      x: {
        type: "linear",
        min: -487,
        max: 10227,
        afterFit: (s) => { s.height = 58; },
        afterBuildTicks: (s) => { s.ticks = xTicks.map((v) => ({ value: v })); },
        grid: { color: "#b0b0b0", lineWidth: 1, tickColor: "#000", tickLength: 5 },
        border: { display: false },
        ticks: { color: "#000", font: { family: FONT, size: 13.89 }, padding: 4, maxRotation: 0, callback: (v) => String(v) },
        title: { display: true, text: "Sample #", color: "#000", font: { family: FONT, size: 13.89 }, padding: { top: 0, bottom: 13 } },
      },
      y: {
        type: "linear",
        min: 6155.88,
        max: 6225.22,
        afterFit: (s) => { s.width = 80.6; },
        afterBuildTicks: (s) => { s.ticks = yTicks.map((v) => ({ value: v })); },
        grid: { color: "#b0b0b0", lineWidth: 1, tickColor: "#000", tickLength: 5 },
        border: { display: false },
        ticks: { color: "#000", font: { family: FONT, size: 13.89 }, padding: 5, callback: (v) => String(v) },
        title: { display: true, text: "ADC Counts", color: "#000", font: { family: FONT, size: 13.89 }, padding: { top: 13, bottom: 0 } },
      },
    },
  },
});
</script>
</body>
</html>
